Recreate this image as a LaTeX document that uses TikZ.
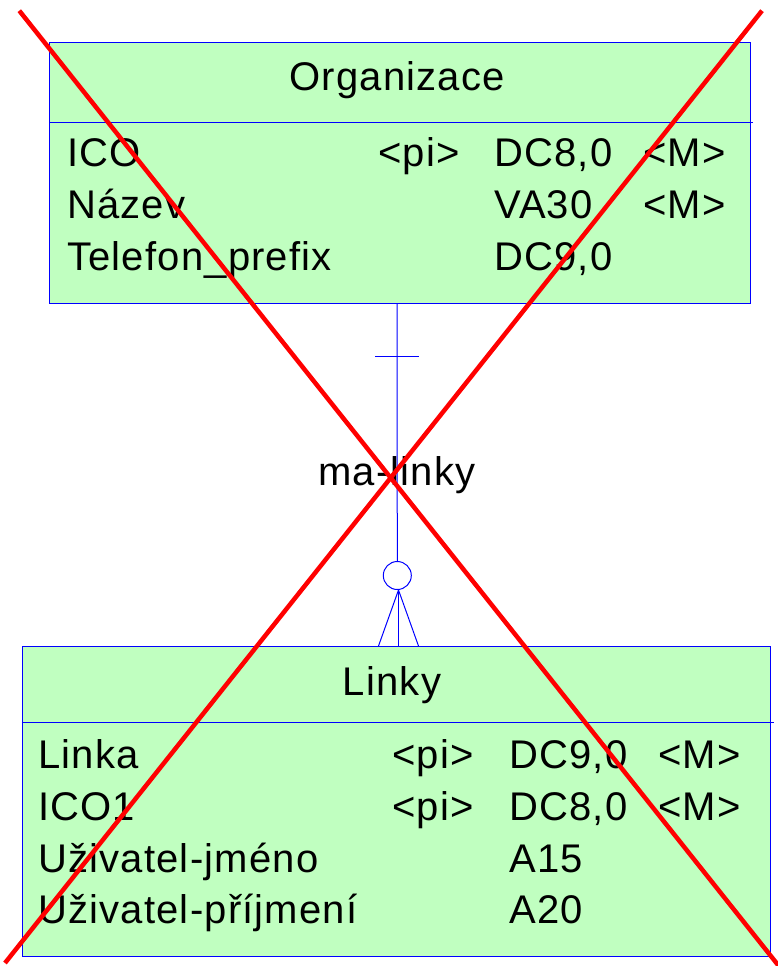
\documentclass[tikz,border=0pt]{standalone}
\usepackage{fontspec}
\setmainfont{Liberation Sans}[LetterSpace=3]
\definecolor{entfill}{RGB}{192,255,192}
\definecolor{entline}{RGB}{0,0,255}
\definecolor{xred}{RGB}{255,0,0}
\tikzset{
  entity/.style={draw=entline, fill=entfill, line width=1pt, rectangle, inner sep=0pt, anchor=north west},
  sepline/.style={draw=entline, line width=1pt},
  conn/.style={draw=entline, line width=1pt},
  txt/.style={inner sep=0pt, anchor=base west, font=\fontsize{40}{48}\selectfont},
  ttl/.style={inner sep=0pt, anchor=base, font=\fontsize{40}{48}\selectfont},
  cross/.style={draw=xred, line width=4.5pt}
}
\begin{document}
\begin{tikzpicture}[x=1pt,y=-1pt]
\useasboundingbox (0,0) rectangle (778,966);
\begin{scope}
\clip (0,0) rectangle (778,966);
% Organizace entity
\node[entity, minimum width=701pt, minimum height=261pt] (org) at (49,42) {};
\coordinate (orgsepL) at (49,122);
\coordinate (orgsepR) at (753,122);
\draw[sepline] (orgsepL) -- (orgsepR);
\node[ttl] (orgt) at (397,90) {Organizace};
\node[txt] (o1a) at (67,166.5) {ICO};
\node[txt] (o1b) at (378,166.5) {<pi>};
\node[txt] (o1c) at (494,166.5) {DC8,0};
\node[txt] (o1d) at (643,166.5) {<M>};
\node[txt] (o2a) at (67,218.5) {Název};
\node[txt] (o2c) at (494,218.5) {VA30};
\node[txt] (o2d) at (643,218.5) {<M>};
\node[txt] (o3a) at (67,270) {Telefon\_prefix};
\node[txt] (o3c) at (494,270) {DC9,0};
% Linky entity
\node[entity, minimum width=748.5pt, minimum height=310pt] (lin) at (21.5,646) {};
\coordinate (linsepL) at (21.5,722.5);
\coordinate (linsepR) at (774,722.5);
\draw[sepline] (linsepL) -- (linsepR);
\node[ttl] (lint) at (392,695) {Linky};
\node[txt] (l1a) at (38,768.5) {Linka};
\node[txt] (l1b) at (392,768.5) {<pi>};
\node[txt] (l1c) at (509,768.5) {DC9,0};
\node[txt] (l1d) at (658,768.5) {<M>};
\node[txt] (l2a) at (38,820) {ICO1};
\node[txt] (l2b) at (392,820) {<pi>};
\node[txt] (l2c) at (509,820) {DC8,0};
\node[txt] (l2d) at (658,820) {<M>};
\node[txt] (l3a) at (38,872) {Uživatel-jméno};
\node[txt] (l3c) at (509,872) {A15};
\node[txt] (l4a) at (38,923) {Uživatel-příjmení};
\node[txt] (l4c) at (509,923) {A20};
% relationship
\coordinate (cTop) at (397,303);
\coordinate (tickL) at (375,356);
\coordinate (tickR) at (419,356);
\node[draw=entline, line width=1pt, circle, minimum size=28pt, inner sep=0pt] (circ) at (397.3,575.5) {};
\coordinate (apex) at (398.5,590);
\coordinate (footL) at (378.5,646);
\coordinate (footM) at (398.5,646);
\coordinate (footR) at (418.5,646);
\draw[conn] (cTop) -- (circ.north);
\draw[conn] (tickL) -- (tickR);
\draw[conn] (apex) -- (footL);
\draw[conn] (apex) -- (footM);
\draw[conn] (apex) -- (footR);
\node[ttl] (rel) at (397,485) {ma-linky};
% red cross
\coordinate (x1a) at (19.3,10.7);
\coordinate (x1b) at (780,967.5);
\coordinate (x2a) at (762,10.7);
\coordinate (x2b) at (5,963);
\draw[cross] (x1a) -- (x1b);
\draw[cross] (x2a) -- (x2b);
\end{scope}
\end{tikzpicture}
\end{document}
